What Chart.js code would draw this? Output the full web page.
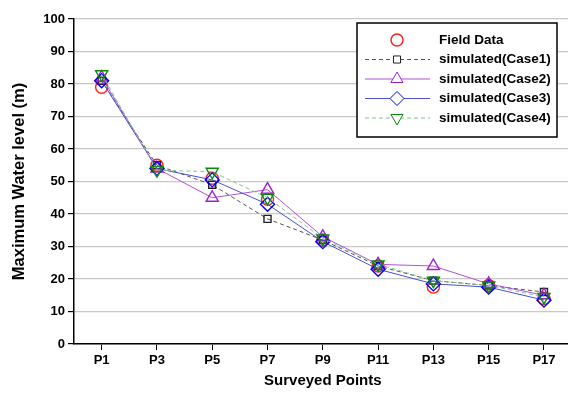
<!DOCTYPE html>
<html>
<head>
<meta charset="utf-8">
<script src="https://cdn.jsdelivr.net/npm/chart.js@4/dist/chart.umd.min.js"></script>
<style>
  html, body { margin: 0; padding: 0; background: #fff; overflow: hidden; }
  #wrap { width: 568px; height: 393px; position: relative; overflow: hidden; }
</style>
</head>
<body>
<div id="wrap"><canvas id="c" width="580" height="393"></canvas></div>
<script>
// Surveyed points along the channel
const points = ['P1', 'P3', 'P5', 'P7', 'P9', 'P11', 'P13', 'P15', 'P17'];

// Maximum water level (m) at each point
const fieldData = [79, 55, 51, 44.5, 32, 24, 17.5, 18, 14];
const case1 = [81, 55, 49, 38.5, 32, 24, 19.5, 18, 16];
const case2 = [82, 54, 45, 47.5, 33, 24.5, 24, 18.5, 15];
const case3 = [81, 54, 50.5, 43, 31.5, 23, 18.5, 17.5, 13.5];
const case4 = [83, 53.5, 53, 45, 32.5, 24.5, 19.5, 18, 14.5];

const yTicks = [0, 10, 20, 30, 40, 50, 60, 70, 80, 90, 100];

const FONT = '"Liberation Sans", Arial, sans-serif';

const series = [
  { label: 'Field Data', data: fieldData, line: null, dash: [], marker: '#ff2020', style: 'circle', radius: 6, rot: 0, showLine: false },
  { label: 'simulated(Case1)', data: case1, line: '#555555', dash: [4, 3], marker: '#222222', style: 'rect', radius: 5, rot: 0, showLine: true },
  { label: 'simulated(Case2)', data: case2, line: '#b34fd6', dash: [], marker: '#a020d0', style: 'triangle', radius: 7, rot: 0, showLine: true },
  { label: 'simulated(Case3)', data: case3, line: '#4a50d0', dash: [], marker: '#0000ff', style: 'rectRot', radius: 7, rot: 0, showLine: true },
  { label: 'simulated(Case4)', data: case4, line: '#7fc48f', dash: [4, 3], marker: '#0a8a0a', style: 'triangle', radius: 7, rot: 180, showLine: true }
];

// Legend box drawn inside the plot area, each row shows its line sample and marker
const boxLegend = {
  id: 'boxLegend',
  afterDraw(chart) {
    const ctx = chart.ctx;
    const x0 = 357, y0 = 23, w = 200, h = 114;
    ctx.save();
    ctx.fillStyle = '#fff';
    ctx.fillRect(x0, y0, w, h);
    ctx.strokeStyle = '#000';
    ctx.lineWidth = 1.5;
    ctx.strokeRect(x0, y0, w, h);
    const rowY = [40, 59.5, 79, 98.5, 118];
    series.forEach((s, i) => {
      const y = rowY[i];
      if (s.showLine) {
        ctx.beginPath();
        ctx.strokeStyle = s.line;
        ctx.lineWidth = 1;
        ctx.setLineDash(s.dash);
        ctx.moveTo(365, y);
        ctx.lineTo(430, y);
        ctx.stroke();
        ctx.setLineDash([]);
      }
      ctx.fillStyle = '#fff';
      ctx.strokeStyle = s.marker;
      Chart.helpers.drawPoint(ctx, {
        pointStyle: s.style,
        radius: s.radius,
        rotation: s.rot,
        borderWidth: 1.4
      }, 397, y);
      ctx.fillStyle = '#000';
      ctx.font = 'bold 13.5px ' + FONT;
      ctx.textBaseline = 'middle';
      ctx.textAlign = 'left';
      ctx.fillText(s.label, 439, y);
    });
    ctx.restore();
  }
};

new Chart(document.getElementById('c'), {
  type: 'line',
  data: {
    labels: points,
    datasets: series.map(s => ({
      label: s.label,
      data: s.data,
      showLine: s.showLine,
      borderColor: s.line || s.marker,
      borderWidth: 1,
      borderDash: s.dash,
      tension: 0,
      fill: false,
      pointStyle: s.style,
      pointRadius: s.radius,
      pointRotation: s.rot,
      pointBorderColor: s.marker,
      pointBackgroundColor: 'rgba(255,255,255,0)',
      pointBorderWidth: 1.4,
      pointHoverRadius: s.radius
    })).reverse()
  },
  options: {
    responsive: false,
    animation: false,
    devicePixelRatio: 1,
    layout: { padding: { left: 0, right: 8, top: 19, bottom: 3 } },
    plugins: {
      legend: { display: false },
      tooltip: { enabled: false }
    },
    scales: {
      x: {
        type: 'category',
        offset: true,
        grid: { display: true, drawOnChartArea: false, drawTicks: true, tickLength: 6, color: '#000' },
        border: { display: true, color: '#000', width: 1.5 },
        ticks: { color: '#000', font: { family: FONT, size: 13, weight: 'bold' }, padding: 3, maxRotation: 0 },
        title: { display: true, text: 'Surveyed Points', color: '#000', font: { family: FONT, size: 15, weight: 'bold' }, padding: { top: 4, bottom: 0 } },
        afterFit(scale) { scale.height = 46; }
      },
      y: {
        min: 0,
        max: 100,
        afterBuildTicks(scale) { scale.ticks = yTicks.map(v => ({ value: v })); },
        grid: { color: '#c8c8c8', lineWidth: 1.2, drawTicks: true, tickLength: 6, tickColor: '#000' },
        border: { display: true, color: '#000', width: 1.5 },
        ticks: { color: '#000', font: { family: FONT, size: 13, weight: 'bold' }, padding: 3 },
        title: { display: true, text: 'Maximum Water level (m)', color: '#000', font: { family: FONT, size: 16.5, weight: 'bold' }, padding: { top: 10, bottom: 4 } },
        afterFit(scale) { scale.width = 74; }
      }
    }
  },
  plugins: [boxLegend]
});
</script>
</body>
</html>
